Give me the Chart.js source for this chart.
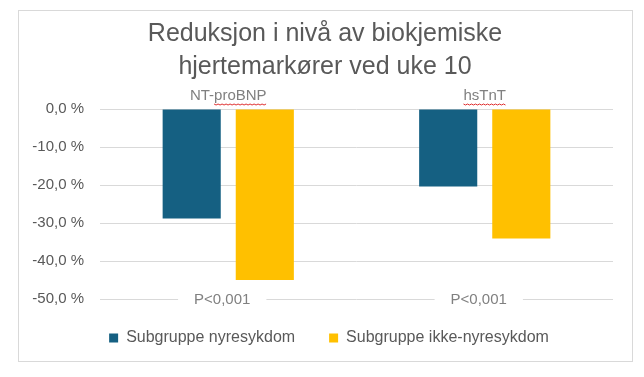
<!DOCTYPE html>
<html>
<head>
<meta charset="utf-8">
<script src="https://cdn.jsdelivr.net/npm/chart.js@4.4.1/dist/chart.umd.min.js"></script>
<style>
  html, body { margin: 0; padding: 0; background: #fff; }
  #wrap { width: 644px; height: 377px; }
</style>
</head>
<body>
<div id="wrap"><canvas id="myChart" width="644" height="377"></canvas></div>
<script>
// data
var categories = ["NT-proBNP", "hsTnT"];
var seriesNames = ["Subgruppe nyresykdom", "Subgruppe ikke-nyresykdom"];
var nyresykdom = [-28.8, -20.4];
var ikkeNyresykdom = [-45.0, -34.1];
var pValues = ["P<0,001", "P<0,001"];
var yTicks = [0, -10, -20, -30, -40, -50];

var barColors = ["#156082", "#FFC000"];
var textColor = "#595959";
var fontFam = "'Liberation Sans', Arial, sans-serif";

function pct(v) {
    var s = Math.abs(v).toFixed(1).replace(".", ",");
    return (v < 0 ? "-" : "") + s + " %";
}

// spell-check style underline seen in the original
function squiggle(c, x0, x1, y) {
    c.save();
    c.strokeStyle = "#e03030";
    c.lineWidth = 1;
    c.beginPath();
    for (var x = x0; x <= x1; x += 2) {
        var yy = y + ((Math.round((x - x0) / 2) % 2) ? 1 : 0);
        if (x === x0) c.moveTo(x, yy); else c.lineTo(x, yy);
    }
    c.stroke();
    c.restore();
}

var extras = {
    id: "extras",
    afterLayout: function (chart) {
        // the original centres title and legend on the frame, not the plot
        chart.titleBlock.left += 11;
        chart.titleBlock.right += 11;
        chart.legend.left += 15;
        chart.legend.right += 15;
        chart.legend.top -= 3;
        chart.legend.bottom -= 3;
    },
    beforeDraw: function (chart) {
        var c = chart.ctx;
        c.save();
        c.fillStyle = "#fff";
        c.fillRect(0, 0, chart.width, chart.height);
        c.strokeStyle = "#d9d9d9";
        c.lineWidth = 1;
        c.strokeRect(18.5, 10.5, 614, 351);
        c.restore();
    },
    beforeDatasetsDraw: function (chart) {
        var c = chart.ctx;
        var x = chart.scales.x, y = chart.scales.y;
        c.save();
        c.font = "15px " + fontFam;
        c.textAlign = "center";
        c.textBaseline = "middle";
        categories.forEach(function (name, i) {
            var cx = x.getPixelForValue(i);
            var w = c.measureText(name).width;
            var top = y.getPixelForValue(0);
            c.fillStyle = "#fff";
            c.fillRect(cx - w / 2 - 10, top - 20, w + 20, 20);
            c.fillStyle = "#808080";
            c.fillText(name, cx, top - 13);
            if (i === 0) {
                var pre = c.measureText("NT-").width;
                squiggle(c, cx - w / 2 + pre, cx + w / 2, top - 5);
            } else {
                squiggle(c, cx - w / 2, cx + w / 2, top - 5);
            }

            var px = cx - 6;
            var py = y.getPixelForValue(-50);
            var pw = c.measureText(pValues[i]).width;
            c.fillStyle = "#fff";
            c.fillRect(px - pw / 2 - 16, py - 9, pw + 32, 18);
            c.fillStyle = "#808080";
            c.fillText(pValues[i], px, py + 1);
        });
        c.restore();
    }
};

var ctx = document.getElementById("myChart").getContext("2d");
var config = {
    type: "bar",
    data: {
        labels: categories,
        datasets: [{
            label: seriesNames[0],
            data: nyresykdom,
            backgroundColor: barColors[0]
        }, {
            label: seriesNames[1],
            data: ikkeNyresykdom,
            backgroundColor: barColors[1]
        }]
    },
    options: {
        responsive: false,
        animation: false,
        layout: { padding: { top: 10, left: 15, right: 31, bottom: 18 } },
        datasets: {
            bar: { categoryPercentage: 0.57, barPercentage: 0.795 }
        },
        plugins: {
            title: {
                display: true,
                text: ["Reduksjon i nivå av biokjemiske", "hjertemarkører ved uke 10"],
                color: textColor,
                font: { family: fontFam, size: 25, weight: "normal", lineHeight: 1.32 },
                padding: { top: 8, bottom: 25 }
            },
            legend: {
                position: "bottom",
                labels: {
                    color: textColor,
                    boxWidth: 9,
                    boxHeight: 9,
                    padding: 34,
                    font: { family: fontFam, size: 16 }
                }
            },
            tooltip: { enabled: false }
        },
        scales: {
            x: { display: false },
            y: {
                min: -50,
                max: 0,
                afterFit: function (s) { s.width = 85; },
                afterBuildTicks: function (s) {
                    s.ticks = yTicks.map(function (v) { return { value: v }; });
                },
                grid: { color: "#d9d9d9", drawTicks: false },
                border: { display: false },
                ticks: {
                    color: textColor,
                    padding: 16,
                    font: { family: fontFam, size: 15 },
                    callback: function (v) { return pct(v); }
                }
            }
        }
    },
    plugins: [extras]
};

var myChart = new Chart(ctx, config);
</script>
</body>
</html>
